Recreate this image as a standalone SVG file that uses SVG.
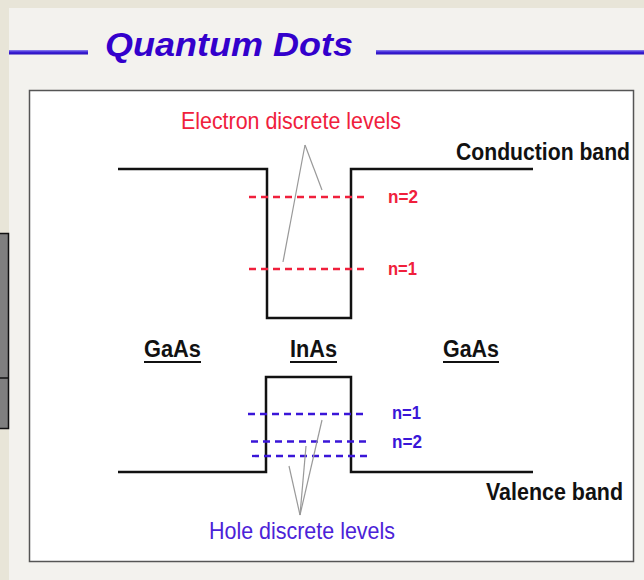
<svg xmlns="http://www.w3.org/2000/svg" width="644" height="580" viewBox="0 0 644 580">
  <defs>
    <linearGradient id="rule" x1="0" y1="0" x2="0" y2="1">
      <stop offset="0" stop-color="#8f86f0"/>
      <stop offset="0.5" stop-color="#3a1fd6"/>
      <stop offset="1" stop-color="#2a10b8"/>
    </linearGradient>
  </defs>
  <style>
    .band { fill: none; stroke: #111; stroke-width: 2.5; stroke-linejoin: miter; }
    .edash { stroke: #f0203c; stroke-width: 2.3; stroke-dasharray: 7 5; fill: none; }
    .hdash { stroke: #3a16d8; stroke-width: 2.3; stroke-dasharray: 7 5; fill: none; }
    .ptr { stroke: #999; stroke-width: 1.2; fill: none; }
    .lbl { font-family: "Liberation Sans", Arial, sans-serif; font-weight: bold; fill: #111; }
    .mat { font-family: "Liberation Sans", Arial, sans-serif; font-weight: bold; fill: #111; font-size: 23px; }
    .ul { stroke: #111; stroke-width: 2; }
    .nr { font-family: "Liberation Sans", Arial, sans-serif; font-weight: bold; font-size: 18px; fill: #f0203c; }
    .nb { font-family: "Liberation Sans", Arial, sans-serif; font-weight: bold; font-size: 18px; fill: #3a16d8; }
  </style>

  <!-- background -->
  <rect x="0" y="0" width="644" height="580" fill="#e8e5d8"/>
  <rect x="9" y="8" width="635" height="572" fill="#f3f2ee"/>
  <g id="side-box">
    <rect x="-2" y="233.5" width="10.5" height="195" fill="#7f7f7f" stroke="#111" stroke-width="1.5"/>
    <line x1="0" y1="378" x2="8.5" y2="378" stroke="#111" stroke-width="1.5"/>
  </g>

  <!-- title -->
  <g id="title">
    <rect x="9" y="50" width="79" height="4.5" fill="url(#rule)"/>
    <rect x="376" y="50" width="268" height="4.5" fill="url(#rule)"/>
    <text x="105" y="56" font-family="Liberation Sans, Arial, sans-serif" font-weight="bold" font-style="italic" font-size="34" fill="#3300cc" textLength="248" lengthAdjust="spacingAndGlyphs">Quantum Dots</text>
  </g>

  <!-- diagram panel -->
  <g id="panel">
    <rect x="29.5" y="90.5" width="604" height="471" fill="#ffffff" stroke="#555" stroke-width="1.5"/>
  </g>

  <g id="conduction-band">
    <polyline class="band" points="118,169 267,169 267,318 351,318 351,169 533,169"/>
    <text class="lbl" transform="translate(456,160) scale(1,1.12)" x="0" y="0" font-size="21" textLength="174" lengthAdjust="spacingAndGlyphs">Conduction band</text>
  </g>

  <g id="valence-band">
    <polyline class="band" points="118,472 266,472 266,377 351,377 351,472 533,472"/>
    <text class="lbl" x="486" y="500" font-size="24" textLength="137" lengthAdjust="spacingAndGlyphs">Valence band</text>
  </g>

  <g id="materials">
    <text class="mat" x="144" y="357" textLength="57" lengthAdjust="spacingAndGlyphs">GaAs</text>
    <line class="ul" x1="144" y1="362" x2="201" y2="362"/>
    <text class="mat" x="290" y="357" textLength="47" lengthAdjust="spacingAndGlyphs">InAs</text>
    <line class="ul" x1="290" y1="362" x2="337" y2="362"/>
    <text class="mat" x="443" y="357" textLength="56" lengthAdjust="spacingAndGlyphs">GaAs</text>
    <line class="ul" x1="443" y1="362" x2="499" y2="362"/>
  </g>

  <g id="electron-levels">
    <line class="edash" x1="249" y1="197" x2="368" y2="197"/>
    <line class="edash" x1="249" y1="269" x2="368" y2="269"/>
    <text class="nr" x="388" y="203" textLength="30" lengthAdjust="spacingAndGlyphs">n=2</text>
    <text class="nr" x="388" y="275" textLength="29" lengthAdjust="spacingAndGlyphs">n=1</text>
    <text x="181" y="129" font-family="Liberation Sans, Arial, sans-serif" font-size="24" fill="#f0203c" textLength="220" lengthAdjust="spacingAndGlyphs">Electron discrete levels</text>
  </g>

  <g id="hole-levels">
    <line class="hdash" x1="248" y1="414" x2="367" y2="414"/>
    <line class="hdash" x1="251" y1="441.5" x2="369" y2="441.5"/>
    <line class="hdash" x1="252" y1="456" x2="370" y2="456"/>
    <text class="nb" x="392" y="419" textLength="29" lengthAdjust="spacingAndGlyphs">n=1</text>
    <text class="nb" x="392" y="448" textLength="30" lengthAdjust="spacingAndGlyphs">n=2</text>
    <text x="209" y="539" font-family="Liberation Sans, Arial, sans-serif" font-size="24" fill="#4b22d8" textLength="186" lengthAdjust="spacingAndGlyphs">Hole discrete levels</text>
  </g>

  <g id="connectors">
    <line class="ptr" x1="305" y1="145" x2="322" y2="190"/>
    <line class="ptr" x1="305" y1="145" x2="283" y2="262"/>
    <line class="ptr" x1="300" y1="515" x2="322" y2="420"/>
    <line class="ptr" x1="300" y1="515" x2="306" y2="446"/>
    <line class="ptr" x1="300" y1="515" x2="289" y2="466"/>
  </g>
</svg>
